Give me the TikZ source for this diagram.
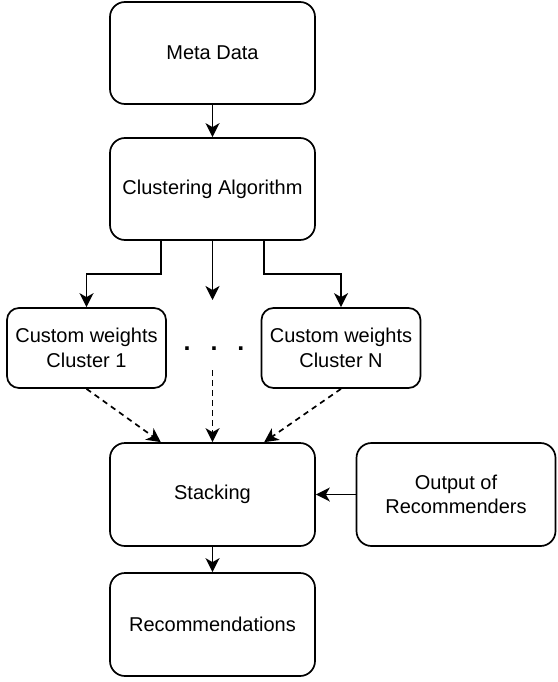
\documentclass[tikz,border=0pt]{standalone}
\usepackage{fontspec}
\setmainfont{Liberation Sans}
\usetikzlibrary{arrows.meta,calc}
\begin{document}
\begin{tikzpicture}[x=1pt,y=-1pt,
  box/.style={draw=black,line width=1.7pt,rounded corners=15pt,align=center,
    font=\fontsize{20}{24.5}\selectfont,inner sep=0pt},
  bigbox/.style={box,minimum width=205pt,minimum height=102pt},
  smallbox/.style={box,rounded corners=12pt,minimum width=159pt,minimum height=80pt},
  arr/.style={line width=1.7pt,-{Stealth[length=14pt,width=14pt,inset=4pt]}},
  darr/.style={arr,dash pattern=on 5.5pt off 4.5pt}]
\fill[white] (0,0) rectangle (557,682);
\useasboundingbox (0,0) rectangle (557,682);

\node[bigbox] (meta) at (212.5,53) {Meta Data};
\node[bigbox] (clust) at (212.5,189) {Clustering Algorithm};
\node[smallbox] (cw1) at (86.5,348) {Custom weights\\Cluster 1};
\node[smallbox] (cwn) at (341,348) {Custom weights\\Cluster N};
\node[bigbox,minimum height=103pt] (stack) at (212.5,494.5) {Stacking};
\node[box,minimum width=199pt,minimum height=103pt] (out) at (456,494.5) {Output of\\Recommenders};
\node[bigbox,minimum height=103pt] (recs) at (212.5,624.5) {Recommendations};

\node[anchor=base,inner sep=0pt,font=\fontsize{25}{25}\bfseries] (dots) at (214,350.5)
  {.\hspace{20pt}.\hspace{20pt}.};

\coordinate (c1) at ($(clust.south west)!0.25!(clust.south east)$);
\coordinate (c3) at ($(clust.south west)!0.75!(clust.south east)$);
\coordinate (midtip) at (212.5,300);
\coordinate (dstart) at (212.5,370);
\coordinate (s1) at ($(stack.north west)!0.25!(stack.north east)$);
\coordinate (s3) at ($(stack.north west)!0.75!(stack.north east)$);

\draw[arr] (meta.south) -- (clust.north);
\draw[arr] (c1) -- ++(0,33) -| (cw1.north);
\draw[arr] (clust.south) -- (midtip);
\draw[arr] (c3) -- ++(0,33) -| (cwn.north);
\draw[darr] (cw1.south) -- (s1);
\draw[darr] (dstart) -- (stack.north);
\draw[darr] (cwn.south) -- (s3);
\draw[arr] (out.west) -- (stack.east);
\draw[arr] (stack.south) -- (recs.north);
\end{tikzpicture}
\end{document}
